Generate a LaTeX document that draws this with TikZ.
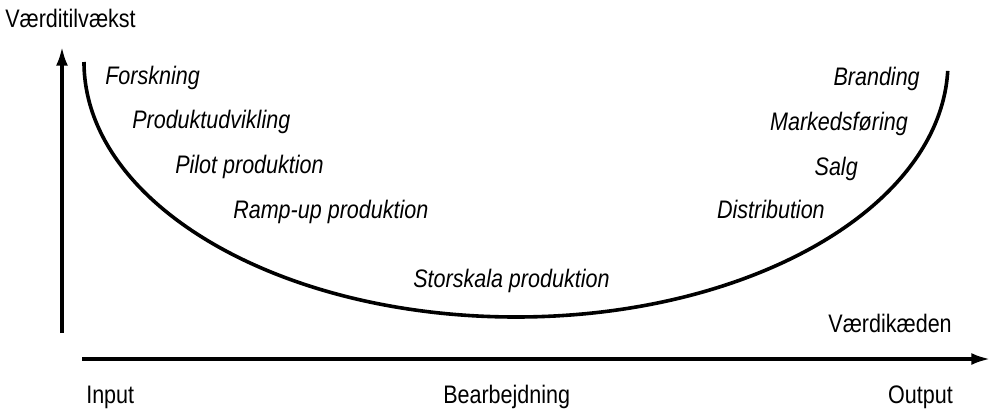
\documentclass[tikz,border=0pt]{standalone}
\usepackage{fontspec}
\setmainfont{Liberation Sans}[FakeStretch=0.85]
\usetikzlibrary{arrows.meta}

\begin{document}
\begin{tikzpicture}[x=0.75pt,y=0.75pt,yscale=-1,
    txt/.style={inner sep=0pt,font=\fontsize{19}{21}\selectfont},
    stage/.style={inner sep=0pt,font=\fontsize{19}{21}\selectfont\itshape},
    axis/.style={line width=2.4pt,-{Latex[length=14pt,width=9pt]}}]
  \useasboundingbox (0,0) rectangle (990,411);

  %% Axes
  \coordinate (yfoot) at (62,333);
  \coordinate (ytop) at (62,47);
  \coordinate (xfoot) at (82,359);
  \coordinate (xtip) at (990,359);
  \draw[axis] (yfoot) -- (ytop);
  \draw[axis] (xfoot) -- (xtip);

  \node[txt,anchor=base west] (vaekst) at (5,27) {Værditilvækst};
  \node[txt,anchor=base east] (kaede) at (952,332) {Værdikæden};
  \node[txt,anchor=base west] (input) at (86,403) {Input};
  \node[txt,anchor=base west] (bearb) at (443,403) {Bearbejdning};
  \node[txt,anchor=base east] (output) at (953,403) {Output};

  %% Smile curve
  \draw[line width=2.7pt]
    (84,62) coordinate (smstart)
    arc[start angle=180, end angle=2, x radius=432, y radius=255] coordinate (smend);

  %% Stages before production
  \node[stage,anchor=base west] (forsk) at (105,84) {Forskning};
  \node[stage,anchor=base west] (udvik) at (132,128) {Produktudvikling};
  \node[stage,anchor=base west] (pilot) at (175,173) {Pilot produktion};
  \node[stage,anchor=base west] (ramp) at (233,218) {Ramp-up produktion};
  \node[stage,anchor=base west] (stor) at (413,287) {Storskala produktion};

  %% Stages after production
  \node[stage,anchor=base east] (brand) at (920,85) {Branding};
  \node[stage,anchor=base east] (marked) at (908,130) {Markedsføring};
  \node[stage,anchor=base east] (salg) at (858,175) {Salg};
  \node[stage,anchor=base east] (distr) at (825,218) {Distribution};

\end{tikzpicture}
\end{document}
